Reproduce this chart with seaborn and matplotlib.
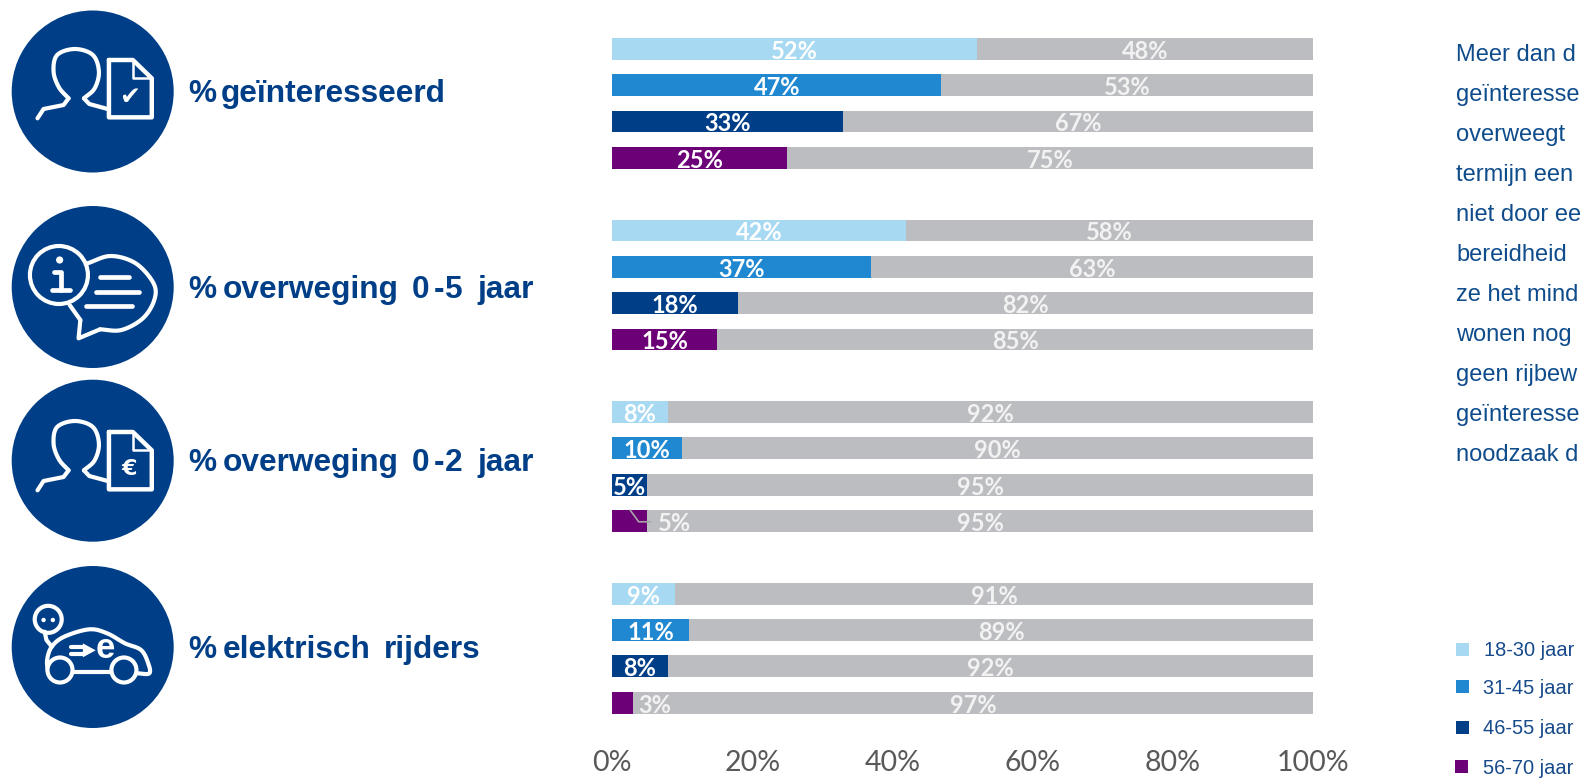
import matplotlib
matplotlib.use("Agg")
import matplotlib.pyplot as plt
import numpy as np
import pandas as pd
import seaborn as sns
from matplotlib.patches import Circle, Ellipse, Polygon, Rectangle

ages = ["18-30 jaar", "31-45 jaar", "46-55 jaar", "56-70 jaar"]
metrics = ["geïnteresseerd", "overweging 0-5", "overweging 0-2", "elektrisch"]
geinteresseerd = [52, 47, 33, 25]
overweging_5 = [42, 37, 18, 15]
overweging_2 = [8, 10, 5, 5]
elektrisch = [9, 11, 8, 3]
tick_values = [0, 20, 40, 60, 80, 100]
body_lines = ["Meer dan d", "geïnteresse", "overweegt", "termijn een", "niet door ee",
              "bereidheid", "ze het mind", "wonen nog", "geen rijbew", "geïnteresse", "noodzaak d"]

LIGHT, MID, NAVY, PURPLE, GREY = "#A7DAF2", "#1F88D0", "#003F87", "#6C0077", "#BCBDC1"
palette = dict(zip(ages, [LIGHT, MID, NAVY, PURPLE]))
W, H = 1582, 779

sns.set_theme(style="white")
plt.rcParams["font.family"] = ["Liberation Sans", "DejaVu Sans"]

rows, order = [], []
for m_i, (m, vals) in enumerate(zip(metrics, [geinteresseerd, overweging_5, overweging_2, elektrisch])):
    for a, v in zip(ages, vals):
        rows.append({"row": f"{m}|{a}", "age": a, "value": v, "rest": 100 - v})
        order.append(f"{m}|{a}")
    if m_i < 3:
        order.append(f"gap{m_i}")
df = pd.DataFrame(rows)

fig = plt.figure(figsize=(W / 100, H / 100), dpi=100, facecolor="white")
pitch = 36.33
top = 30.6
bottom = top + pitch * 19
left, right = 612.0, 1313.0
ax = fig.add_axes([left / W, 1 - bottom / H, (right - left) / W, (bottom - top) / H])

df["total"] = 100
sns.barplot(data=df, y="row", x="total", order=order, color=GREY, width=0.6,
            errorbar=None, ax=ax, saturation=1, linewidth=0)
sns.barplot(data=df, y="row", x="value", order=order, hue="age", hue_order=ages, palette=palette,
            dodge=False, width=0.6, errorbar=None, legend=False, ax=ax, saturation=1, linewidth=0)
ax.set_xlim(0, 100)
ax.set_ylim(18.5, -0.5)
ax.set_xlabel("")
ax.set_ylabel("")
ax.set_yticks([])
ax.set_xticks(tick_values)
ax.set_xticklabels([f"{t}%" for t in tick_values], family="Lato", fontsize=20.5, color="#595959")
ax.tick_params(axis="x", length=0, pad=21)
sns.despine(ax=ax, left=True, bottom=True, top=True, right=True)

for _, r in df.iterrows():
    y = order.index(r["row"])
    v = r["value"]
    lab_x, ha, col = v / 2, "center", "white"
    if v == 3:
        lab_x, ha, col = 3.7, "left", "#F2F2F2"
    if v == 5 and r["age"] == ages[3]:
        lab_x, col = 8.9, "#F2F2F2"
    ax.text(lab_x, y + 0.07, f"{v}%", ha=ha, va="center", family="Lato",
            fontweight="bold", fontsize=17, color=col)
    ax.text(v + (100 - v) / 2, y + 0.07, f"{100 - v}%", ha="center", va="center", family="Lato",
            fontweight="bold", fontsize=17, color="#F2F2F2")

# overlay in pixel coordinates for icons, headings, side text and legend
ov = fig.add_axes([0, 0, 1, 1], facecolor="none")
ov.set_xlim(0, W)
ov.set_ylim(H, 0)
ov.axis("off")

CENTERS = [91.5, 287.0, 460.7, 647.0]
for cy in CENTERS:
    ov.add_patch(Ellipse((92.7, cy), 162, 162, fc=NAVY, ec="none"))


def Z(points, oy=0.0):
    return [(x / 2.8, y / 3 + oy) for x, y in points]


def spline(p, n=10):
    p = np.array(p, float)
    q = np.vstack([2 * p[0] - p[1], p, 2 * p[-1] - p[-2]])
    out = []
    for i in range(1, len(q) - 2):
        for t in np.linspace(0, 1, n, endpoint=False):
            a, b, c, d = q[i - 1], q[i], q[i + 1], q[i + 2]
            out.append(0.5 * (2 * b + (c - a) * t + (2 * a - 5 * b + 4 * c - d) * t ** 2
                              + (3 * b - a - 3 * c + d) * t ** 3))
    out.append(p[-1])
    return [tuple(o) for o in out]


def wline(points, oy=0.0, lw=3.0, smooth=False):
    p = Z(points, oy)
    if smooth:
        p = spline(p)
    ov.plot([a for a, _ in p], [b for _, b in p], color="white", lw=lw,
            solid_capstyle="round", solid_joinstyle="round", zorder=4)


def person_doc(oy, glyph, gsize):
    wline([(105, 355), (122, 327), (178, 315), (192, 295)], oy)
    wline([(192, 295), (165, 262), (150, 215), (160, 165), (210, 147),
           (260, 165), (277, 215), (265, 265), (235, 295)], oy, smooth=True)
    wline([(235, 295), (250, 312), (305, 328)], oy)
    wline([(305, 180), (372, 180), (425, 235), (425, 352), (305, 352), (305, 180)], oy, lw=3.2)
    wline([(372, 180), (372, 235), (425, 235)], oy, 1.8)
    x, y = Z([(362, 290)], oy)[0]
    ov.text(x, y, glyph, color="white", family="DejaVu Sans", fontweight="bold", fontsize=gsize,
            ha="center", va="center", zorder=5)


person_doc(0, "\u2714", 18)
person_doc(372, "€", 16)

# information bubble
ov.add_patch(Ellipse((165 / 2.8, 825 / 3), 58, 58, fc="none", ec="white", lw=3))
wline([(245, 790), (310, 768), (380, 790), (430, 850), (432, 900), (400, 955), (340, 990), (280, 988)], smooth=True)
wline([(280, 988), (220, 1015), (225, 960)])
wline([(225, 960), (195, 915)], smooth=True)
for seg in [[(280, 830), (362, 830)], [(270, 875), (390, 875)], [(240, 917), (370, 917)]]:
    wline(seg, lw=3.4)
wline([(150, 815), (170, 815), (170, 870)], lw=3.4)
wline([(145, 870), (195, 870)], lw=3.4)
ov.add_patch(Circle(Z([(167, 780)])[0], 3.6, fc="white", ec="none"))

# car
oy4 = 380
ov.add_patch(Ellipse(Z([(135, 718)], oy4)[0], 27, 27, fc="none", ec="white", lw=3))
for dx in (122, 148):
    ov.add_patch(Circle(Z([(dx, 720)], oy4)[0], 2.2, fc="white", ec="none"))
wline([(125, 755), (130, 780), (145, 800)], oy4)
wline([(135, 880), (132, 840), (145, 800), (180, 770), (250, 748), (300, 760), (350, 790), (395, 810),
       (415, 850), (418, 880), (385, 880)], oy4, smooth=True)
wline([(205, 875), (310, 875)], oy4)
for dx in (168, 347):
    ov.add_patch(Ellipse(Z([(dx, 870)], oy4)[0], 25, 25, fc=NAVY, ec="white", lw=3, zorder=5))
wline([(200, 800), (235, 800)], oy4)
wline([(200, 822), (235, 822)], oy4)
ov.add_patch(Polygon(Z([(232, 790), (268, 811), (232, 832)], oy4), fc="white", ec="none"))
x, y = Z([(295, 806)], oy4)[0]
ov.text(x, y, "e", color="white", family="Liberation Sans", fontweight="bold", fontsize=25,
        ha="center", va="center")

# headings
HEAD = 22.8
head_pieces = [
    (92, [(188, "%"), (220.5, "geïnteresseerd")]),
    (288, [(188, "%"), (223, "overweging"), (412, "0"), (434, "-"), (445, "5"), (477, "jaar")]),
    (461, [(188, "%"), (223, "overweging"), (412, "0"), (434, "-"), (445, "2"), (477, "jaar")]),
    (648, [(188, "%"), (223, "elektrisch"), (384, "rijders")]),
]
for y, pieces in head_pieces:
    for x, s in pieces:
        ov.text(x, y + 10, s, color=NAVY, family="Liberation Sans", fontweight="bold", fontsize=HEAD,
                ha="left", va="baseline")

# body text, cut by the page edge like the reference
for i, line in enumerate(body_lines):
    ov.text(1456, 54.5 + i * 40.05, line, color="#0F4C8C", family="Liberation Sans", fontsize=17,
            ha="left", va="center")

# legend
legend_y = [649.5, 686.5, 727.5, 766.5]
legend_x = [1456, 1456, 1456, 1455]
text_x = [1484, 1483, 1483, 1483]
for a, y, sx, tx in zip(ages, legend_y, legend_x, text_x):
    ov.add_patch(Rectangle((sx, y - 6.5), 13, 13, fc=palette[a], ec="none"))
    ov.text(tx, y + 1.5, a, color="#174A8B", family="Liberation Sans", fontsize=14.4, ha="left", va="center")

# leader line of the purple 5% label
ax.plot([2.6, 3.8, 5.5], [12.7, 13.02, 13.02], color="#A6A6A6", lw=1.2, zorder=6)

fig.savefig("out.png", dpi=100)
